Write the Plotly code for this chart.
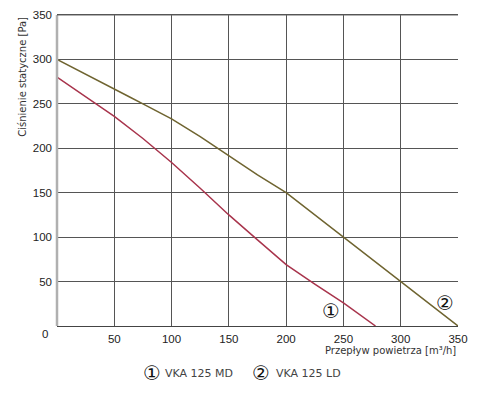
import plotly.graph_objects as go

# Data
md_flow = [0, 25, 50, 75, 100, 125, 150, 175, 200, 225, 250, 278]
md_pressure = [280, 258, 236, 211, 184, 155, 125, 97, 69, 47, 26, 0]

ld_flow = [0, 50, 63, 75, 100, 125, 150, 175, 200, 225, 250, 275, 300, 325, 350]
ld_pressure = [300, 266, 258, 250, 233, 213, 191, 170, 150, 125, 100, 75, 50, 25, 0]

x_ticks = [50, 100, 150, 200, 250, 300, 350]
y_ticks = [50, 100, 150, 200, 250, 300, 350]

MD_COLOR = "#a8344c"
LD_COLOR = "#6f6430"
GRID = "#555555"

fig = go.Figure()
fig.add_trace(go.Scatter(x=md_flow, y=md_pressure, mode="lines", name="VKA 125 MD",
                         line=dict(color=MD_COLOR, width=1.5), showlegend=False))
fig.add_trace(go.Scatter(x=ld_flow, y=ld_pressure, mode="lines", name="VKA 125 LD",
                         line=dict(color=LD_COLOR, width=1.5), showlegend=False))

tick_font = dict(family="Liberation Sans, Arial", size=11.5, color="#222")
lab_font = dict(family="DejaVu Sans", size=10, color="#333")
circ_font = dict(family="DejaVu Sans", size=20, color="#111")

fig.update_layout(
    width=482, height=393,
    margin=dict(l=57, r=24, t=15, b=67),
    paper_bgcolor="white", plot_bgcolor="white",
    xaxis=dict(range=[0, 350], tickvals=x_ticks, ticks="", showgrid=True,
               gridcolor=GRID, gridwidth=1, zeroline=False, showline=True,
               linecolor="#444", linewidth=1, mirror=True, tickfont=tick_font,
               ticklabelstandoff=2, fixedrange=True, automargin=False),
    yaxis=dict(range=[0, 350], tickvals=y_ticks, ticks="", showgrid=True,
               gridcolor=GRID, gridwidth=1, zeroline=False, showline=False,
               tickfont=tick_font, ticklabelstandoff=4, fixedrange=True, automargin=False),
    showlegend=False,
)

# left axis line (lighter, thicker) and top border
fig.add_shape(type="line", xref="paper", yref="paper", x0=0, x1=0, y0=0, y1=1,
              line=dict(color="#b0b0b0", width=2.5))
fig.add_shape(type="line", xref="paper", yref="paper", x0=0, x1=1, y0=1, y1=1,
              line=dict(color="#666", width=1))

annotations = [
    dict(text="0", xref="paper", yref="paper", x=-0.018, y=-0.027, showarrow=False,
         font=tick_font, xanchor="right", yanchor="middle"),
    dict(text="Ciśnienie statyczne [Pa]", xref="paper", yref="paper", x=-0.088, y=1.0,
         textangle=-90, showarrow=False, font=lab_font, xanchor="center", yanchor="top"),
    dict(text="Przepływ powietrza [m³/h]", xref="paper", yref="paper", x=1.0, y=-0.08,
         showarrow=False, font=lab_font, xanchor="right", yanchor="middle"),
    dict(text="①", x=239, y=17, showarrow=False, font=circ_font),
    dict(text="②", x=339, y=26, showarrow=False, font=circ_font),
    dict(text="①", xref="paper", yref="paper", x=0.237, y=-0.152, showarrow=False,
         font=circ_font, xanchor="center", yanchor="middle"),
    dict(text="VKA 125 MD", xref="paper", yref="paper", x=0.265, y=-0.152, showarrow=False,
         font=dict(family="DejaVu Sans", size=11, color="#444"), xanchor="left", yanchor="middle"),
    dict(text="②", xref="paper", yref="paper", x=0.508, y=-0.152, showarrow=False,
         font=circ_font, xanchor="center", yanchor="middle"),
    dict(text="VKA 125 LD", xref="paper", yref="paper", x=0.54, y=-0.152, showarrow=False,
         font=dict(family="DejaVu Sans", size=11, color="#444"), xanchor="left", yanchor="middle"),
]
fig.update_layout(annotations=annotations)

fig.write_html("out.html", config={"displayModeBar": False},
               post_script="document.body.style.margin='0';")
